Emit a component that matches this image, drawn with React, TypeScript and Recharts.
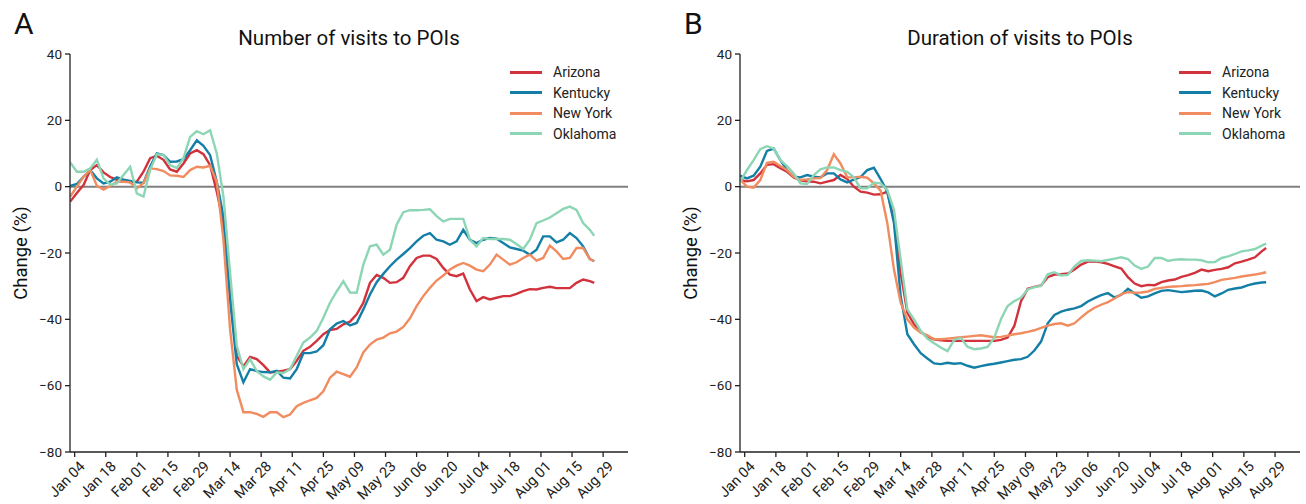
import React from 'react';
import { LineChart, Line, XAxis, YAxis, ReferenceLine } from 'recharts';

const DAYS = [-2, 1, 4, 7, 10, 13, 16, 19, 22, 25, 28, 31, 34, 37, 40, 43, 46, 49, 52, 55, 58, 61, 64, 67, 70, 73, 76, 79, 82, 85, 88, 91, 94, 97, 100, 103, 106, 109, 112, 115, 118, 121, 124, 127, 130, 133, 136, 139, 142, 145, 148, 151, 154, 157, 160, 163, 166, 169, 172, 175, 178, 181, 184, 187, 190, 193, 196, 199, 202, 205, 208, 211, 214, 217, 220, 223, 226, 229, 232, 234];

const TICK_DAYS = [0, 14, 28, 42, 56, 70, 84, 98, 112, 126, 140, 154, 168, 182, 196, 210, 224, 238];
const TICK_LABELS = ['Jan 04', 'Jan 18', 'Feb 01', 'Feb 15', 'Feb 29', 'Mar 14', 'Mar 28', 'Apr 11', 'Apr 25', 'May 09', 'May 23', 'Jun 06', 'Jun 20', 'Jul 04', 'Jul 18', 'Aug 01', 'Aug 15', 'Aug 29'];
const Y_TICKS = [-80, -60, -40, -20, 0, 20, 40];

const STATES = ['Arizona', 'Kentucky', 'New York', 'Oklahoma'];
const COLORS = ['#d2323c', '#147fa6', '#f08c5f', '#8dd6b5'];

// Panel A: number of visits
const VISITS_AZ = [-4.5, -1.9, 0.5, 5, 6.5, 4.3, 2.9, 2.1, 2.0, 1.3, 1.5, 4.5, 8.6, 9.3, 8.1, 5.2, 4.5, 7, 10, 11, 9.8, 6.5, -1.5, -11, -33, -51, -54.2, -51.3, -52, -53.8, -56, -55.8, -55.5, -55, -52.5, -49.5, -48.3, -46.5, -44.5, -43.2, -42.9, -41.5, -40.7, -38.5, -35, -29, -26.6, -27.5, -29, -28.8, -27.5, -24, -21.5, -20.8, -20.8, -21.8, -24.5, -26.5, -27, -26.2, -31, -34.5, -33.3, -34, -33.5, -33, -33, -32.3, -31.5, -30.9, -31, -30.5, -30.2, -30.6, -30.6, -30.6, -29, -28, -28.5, -29];
const VISITS_KY = [0.2, 0.8, 3, 5, 2.5, 1, 1.5, 2.8, 2.1, 1.7, 1.3, 1.2, 6.1, 10, 9.5, 7.5, 7.6, 8.3, 11, 14, 12.3, 9.5, 1.5, -9, -34, -53.5, -59, -55, -55.6, -55.9, -56, -55.5, -57.6, -57.8, -55, -50.2, -50.2, -49.7, -47.8, -43, -41.3, -40.5, -41.8, -41.1, -37, -32.5, -28.8, -26.3, -24, -22, -20.3, -18.5, -16.5, -14.8, -14, -16, -16.5, -17.5, -16.5, -13, -16, -17, -16, -15.5, -15.7, -17, -18.3, -18.8, -19.3, -20.5, -19, -15, -15, -16.8, -16, -14, -15.5, -18, -21.8, -22.5];
const VISITS_NY = [-3, 0, 3, 5, 0.3, -0.9, 0.2, 1.5, 1.5, 1.3, -0.5, 1.1, 5.5, 5.3, 4.7, 3.4, 3.3, 2.9, 5, 6, 5.8, 6.3, 1.5, -16, -43, -61.2, -68, -68, -68.5, -69.4, -68, -68, -69.5, -68.7, -66.2, -65.2, -64.4, -63.7, -61.7, -57.6, -55.8, -56.5, -57.3, -54.5, -50, -47.6, -46.1, -45.5, -44.2, -43.7, -42.3, -39.7, -36, -33, -30.5, -28.3, -26.8, -25, -23.8, -23, -23.8, -25, -25.5, -23.5, -20.5, -22, -23.5, -22.8, -21.5, -20.5, -22.3, -21.5, -17.8, -19.5, -21.8, -21.5, -18.5, -18.5, -21.8, -22.5];
const VISITS_OK = [7.3, 4.5, 4.5, 5.5, 8.1, 2.5, 0.6, 1, 3.5, 6, -2, -3, 5.1, 9.8, 9.6, 6.5, 5.6, 8.6, 15, 16.7, 15.8, 17, 10, -3, -26, -48, -55, -52, -55.6, -57.2, -58.2, -56, -56.2, -55, -51, -47, -45.5, -43.5, -39.5, -35, -31.6, -28.5, -31.9, -32, -23.5, -18, -17.5, -20.5, -19, -11.5, -7.7, -7.1, -7.1, -7, -6.8, -8.9, -10.5, -9.7, -9.7, -9.7, -16, -18, -15.5, -15.8, -15.8, -15.8, -16, -17.3, -18.8, -16, -11, -10.2, -9.3, -8, -6.7, -6, -7, -11, -13, -14.8];

// Panel B: duration of visits
const DURATION_AZ = [2, 1.6, 2, 4, 6.6, 6.8, 5.6, 4.5, 2.8, 1.9, 1.6, 1.5, 1, 1.5, 2, 3.5, 2.3, 0, -1.5, -1.8, -2.4, -2.3, -1.5, -10, -26, -38, -41.5, -43.7, -45.3, -46, -46.3, -46.5, -46.5, -46.5, -46.5, -46.5, -46.5, -46.5, -46.5, -46.2, -45.5, -42, -34.5, -30.8, -30.2, -29.8, -27.3, -26.5, -26.4, -26.2, -25, -23.5, -22.6, -22.5, -22.8, -23.3, -24, -24.7, -27.3, -29.2, -30, -29.6, -29.7, -28.8, -28.3, -28, -27.2, -26.7, -26, -25, -25.5, -25.1, -24.8, -24.3, -23.1, -22.6, -22, -21.3, -19.5, -18.5];
const DURATION_KY = [3.3, 2.5, 3.3, 6, 10.8, 11.5, 8, 5, 3, 2.8, 3.5, 3, 2.8, 4, 4, 2.2, 1.3, 2.1, 2.9, 5, 5.7, 2.3, -1.5, -11, -33, -44.5, -47.5, -50.2, -51.8, -53.3, -53.5, -53.1, -53.4, -53.2, -54, -54.6, -54.1, -53.7, -53.4, -53, -52.6, -52.2, -52, -51.3, -49.4, -46.7, -41.2, -38.7, -37.7, -37.1, -36.7, -36, -34.6, -33.6, -32.7, -32.1, -33.4, -32.6, -30.8, -32.2, -33.5, -33.1, -32.2, -31.4, -31.2, -31.5, -31.8, -31.6, -31.4, -31.3, -31.9, -33.1, -32.2, -31.1, -30.7, -30.4, -29.7, -29.2, -28.9, -28.8];
const DURATION_NY = [2.2, 0, -0.3, 2, 7.2, 7.5, 6.2, 5, 3, 2, 2.2, 2.5, 2.6, 5, 9.8, 7, 2.8, 2.8, 3, 2.7, 1, -1.2, -11, -25, -35, -40, -42.5, -44, -44.8, -46, -46, -45.8, -45.6, -45.4, -45.2, -45, -44.8, -45.1, -45.4, -45.3, -44.9, -44.5, -44.2, -43.8, -43.3, -42.6, -41.9, -41.4, -41.2, -41.9, -41.2, -39.4, -37.8, -36.5, -35.6, -34.8, -33.7, -32.4, -31.8, -32, -31.9, -31.6, -30.8, -30.5, -30.2, -30.1, -30, -29.8, -29.7, -29.5, -29.3, -28.8, -28.1, -27.8, -27.5, -27.1, -26.8, -26.5, -26.1, -25.8];
const DURATION_OK = [1.5, 5, 8, 11.3, 12.2, 11.5, 8, 6.2, 4, 1, 0.8, 3.5, 5.2, 5.8, 5.8, 5, 4.5, 2.8, -0.5, -0.5, 1.2, 1, -1, -7, -22, -37, -40, -43.5, -45.8, -47.2, -48.5, -49.6, -46.2, -45.6, -48.3, -49, -48.8, -48.3, -45.5, -40, -36, -34.5, -33.5, -31, -30.3, -29.9, -26.4, -25.8, -26.8, -26.6, -24, -22.4, -22.2, -22.3, -22.5, -22.1, -21.7, -21.3, -21.8, -23.8, -24.8, -24.1, -21.5, -21.5, -22.4, -22, -21.9, -22, -22, -22.2, -22.8, -22.7, -21.5, -21, -20.3, -19.5, -19.2, -18.8, -17.8, -17.2];

const FONT = 'Roboto, "DejaVu Sans", sans-serif';
const KEYS = ['az', 'ky', 'ny', 'ok'];

function buildData(series: number[][]) {
  return DAYS.map((d, i) => {
    const row: any = { day: d };
    KEYS.forEach((k, j) => { row[k] = series[j][i]; });
    return row;
  });
}

const visitsData = buildData([VISITS_AZ, VISITS_KY, VISITS_NY, VISITS_OK]);
const durationData = buildData([DURATION_AZ, DURATION_KY, DURATION_NY, DURATION_OK]);

const XTick = (props: any) => {
  const { x, y, payload } = props;
  const idx = TICK_DAYS.indexOf(payload.value);
  const label = idx >= 0 ? TICK_LABELS[idx] : '';
  return (
    <g transform={`translate(${x + 4},${y + 1})`}>
      <text x={0} y={0} dy="0.7em" textAnchor="end" transform="rotate(-45)" fill="#222" fontSize={14.5} fontFamily={FONT}>
        {label}
      </text>
    </g>
  );
};

const fmtY = (v: number) => (v < 0 ? '\u2212' + Math.abs(v) : String(v));

function Panel(props: { data: any[]; left: number; width: number; marginRight: number; title: string; letter: string; legendX: number }) {
  const { data, left, width, marginRight, title, letter, legendX } = props;
  const plotLeft = left + 70;
  const plotRight = left + width - marginRight;
  return (
    <>
      <div style={{ position: 'absolute', left, top: 0 }}>
        <LineChart width={width} height={504} data={data} margin={{ top: 54, right: marginRight, bottom: 0, left: 30 }}>
          <XAxis
            dataKey="day"
            type="number"
            domain={[-2.1, 249.2]}
            allowDataOverflow
            ticks={TICK_DAYS}
            tick={<XTick />}
            tickSize={5}
            height={52}
            stroke="#222"
            strokeWidth={1.3}
            interval={0}
          />
          <YAxis
            type="number"
            domain={[-80, 40]}
            ticks={Y_TICKS}
            tickFormatter={fmtY}
            width={40}
            tickSize={5}
            tickMargin={3}
            stroke="#222"
            strokeWidth={1.3}
            tick={{ fill: '#222', fontSize: 13.5, fontFamily: FONT }}
            interval={0}
          />
          <ReferenceLine y={0} stroke="#808080" strokeWidth={2} ifOverflow="extendDomain" />
          {KEYS.map((k, j) => (
            <Line key={k} type="linear" dataKey={k} stroke={COLORS[j]} strokeWidth={2.4} dot={false} isAnimationActive={false} />
          ))}
        </LineChart>
      </div>
      <div style={{ position: 'absolute', left: left + 14, top: 4, fontFamily: FONT, fontSize: 30, color: '#111', lineHeight: '40px' }}>{letter}</div>
      <div style={{ position: 'absolute', left: plotLeft, width: plotRight - plotLeft, top: 24, textAlign: 'center', fontFamily: FONT, fontSize: 20.5, color: '#111', lineHeight: '28px' }}>{title}</div>
      <div style={{ position: 'absolute', left: left + 21, top: 253, width: 0, height: 0 }}>
        <div style={{ position: 'absolute', transform: 'translate(-50%, -50%) rotate(-90deg)', whiteSpace: 'nowrap', fontFamily: FONT, fontSize: 18.5, color: '#111', lineHeight: '22px' }}>Change (%)</div>
      </div>
      {STATES.map((s, j) => (
        <div key={s} style={{ position: 'absolute', left: legendX, top: 62 + j * 20.6, height: 20, display: 'flex', alignItems: 'center', fontFamily: FONT, fontSize: 14, color: '#222' }}>
          <div style={{ width: 32, height: 3, background: COLORS[j], marginRight: 11 }} />
          <span>{s}</span>
        </div>
      ))}
    </>
  );
}

export default function App() {
  return (
    <div style={{ position: 'absolute', left: 0, top: 0, width: 1306, height: 504, background: '#fff', overflow: 'hidden' }}>
      <Panel data={visitsData} left={0} width={653} marginRight={25} title="Number of visits to POIs" letter="A" legendX={510} />
      <Panel data={durationData} left={670} width={636} marginRight={6} title="Duration of visits to POIs" letter="B" legendX={1179} />
    </div>
  );
}
